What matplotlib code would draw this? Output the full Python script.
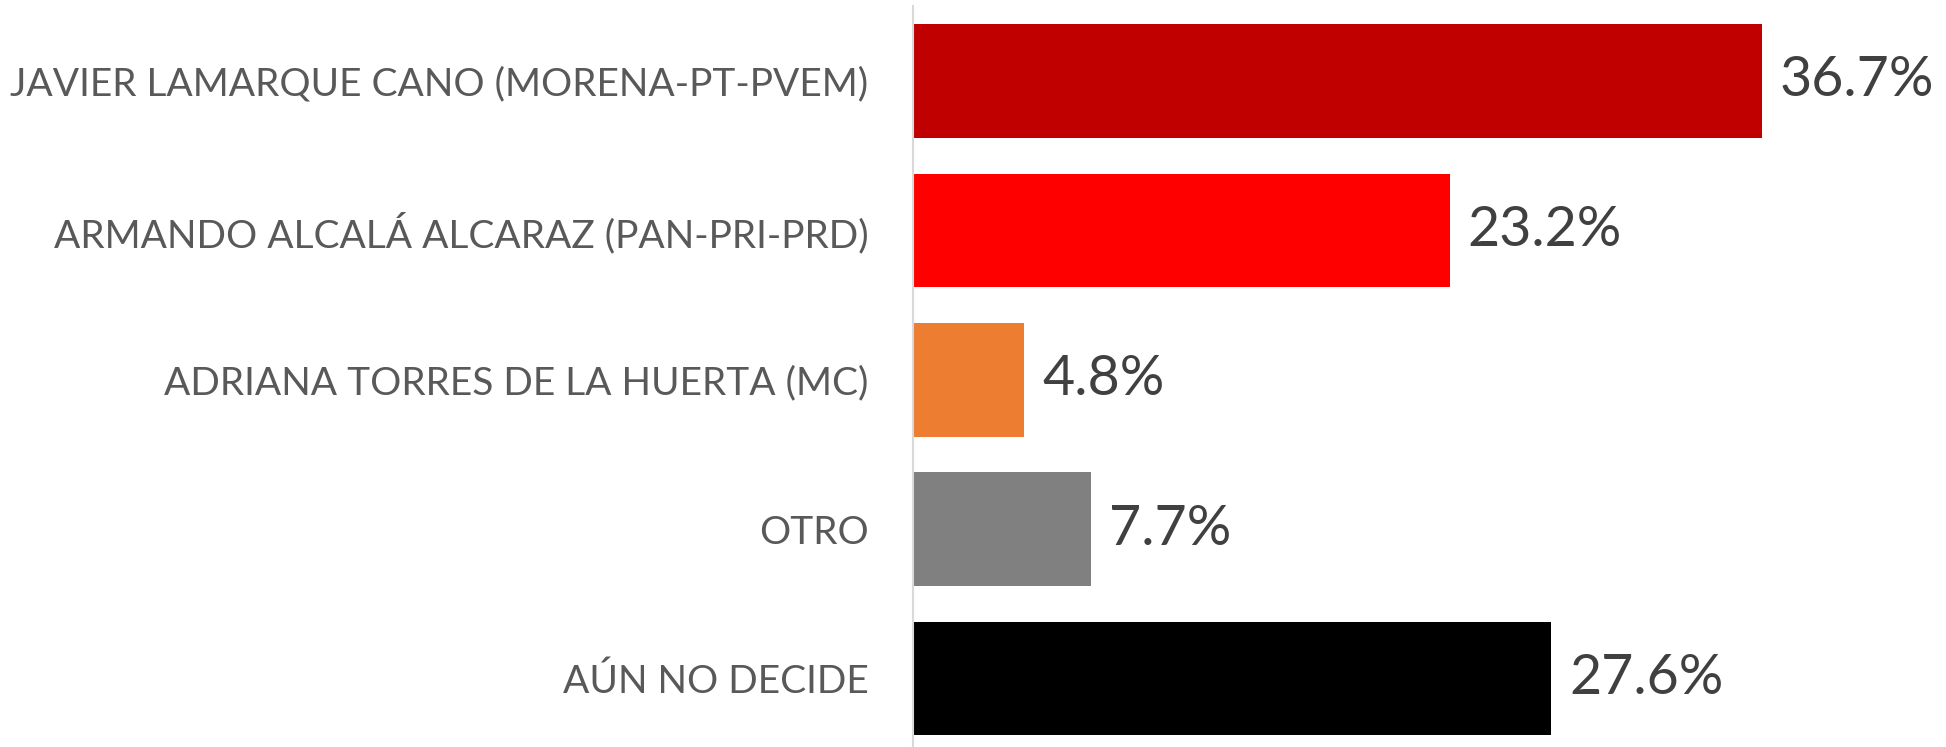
import matplotlib
matplotlib.use('Agg')
import matplotlib.pyplot as plt

# Data
candidates = [
    'JAVIER LAMARQUE CANO (MORENA-PT-PVEM)',
    'ARMANDO ALCALÁ ALCARAZ (PAN-PRI-PRD)',
    'ADRIANA TORRES DE LA HUERTA (MC)',
    'OTRO',
    'AÚN NO DECIDE',
]
percentages = [36.7, 23.2, 4.8, 7.7, 27.6]
bar_colors = ['#C00000', '#FF0000', '#ED7D31', '#808080', '#000000']

W, H, DPI = 1946, 747, 100
fig = plt.figure(figsize=(W / DPI, H / DPI), dpi=DPI)
ax = fig.add_axes([913 / W, 0, 1 - 913 / W, 1 - 6 / H])

y = list(range(len(candidates)))
ax.barh(y, percentages, height=0.76, color=bar_colors)

ax.set_ylim(4.458, -0.502)
ax.set_xlim(0, 44.66)

ax.set_yticks(y)
ax.set_yticklabels(candidates, fontsize=28, color='#595959', family='Lato')
ax.tick_params(axis='y', length=0, pad=32)
ax.set_xticks([])

for s in ['top', 'right', 'bottom']:
    ax.spines[s].set_visible(False)
ax.spines['left'].set_color('#D9D9D9')
ax.spines['left'].set_linewidth(1.5)

for yi, v in zip(y, percentages):
    ax.annotate(f'{v}%', (v, yi), xytext=(13, 0), textcoords='offset points',
                va='center', ha='left', fontsize=40, color='#404040', family='Lato')

fig.savefig('out.png', dpi=DPI)
